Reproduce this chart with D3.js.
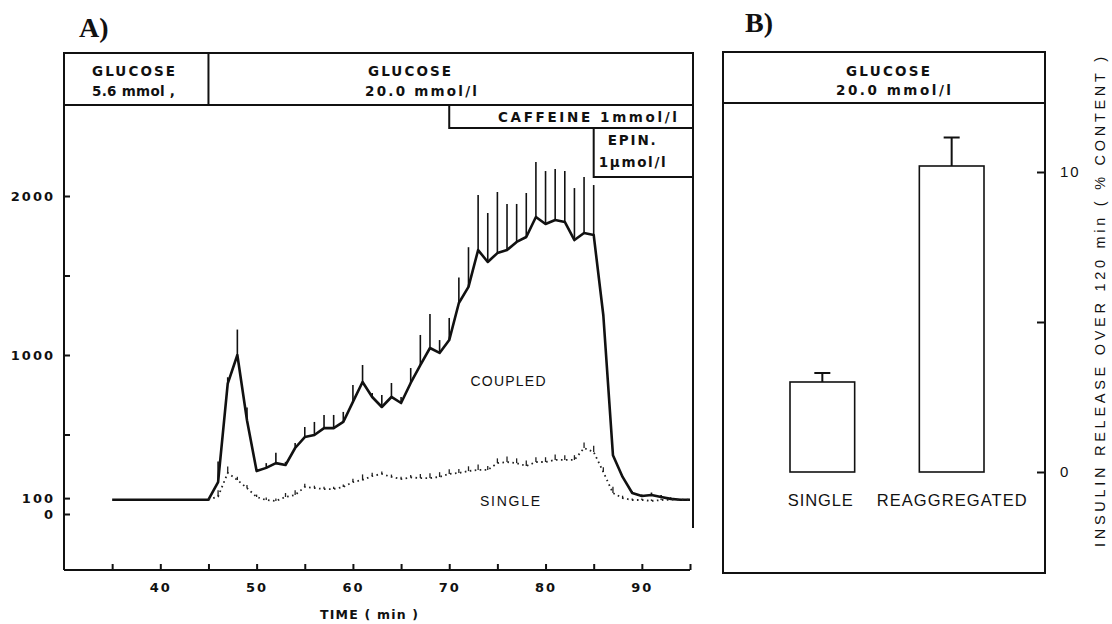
<!DOCTYPE html>
<html>
<head>
<meta charset="utf-8">
<title>Insulin release - coupled and single cells</title>
<style>
  body { margin: 0; background: #fff; }
  svg { display: block; }
  text { font-family: "Liberation Sans", Arial, sans-serif; fill: #111; }
  .lab { font-family: "DejaVu Sans", sans-serif; font-weight: bold; font-size: 13.5px; }
  .tick text { font-family: "DejaVu Sans", sans-serif; font-weight: bold; font-size: 13px; letter-spacing: 2px; fill: #111; }
  .tick line { stroke: #111; stroke-width: 2; }
  .panel { font-family: "Liberation Serif", serif; font-weight: bold; font-size: 28px; }
  .frame { fill: none; stroke: #111; stroke-width: 2; }
</style>
</head>
<body>
<div id="chart"></div>
<script src="https://d3js.org/d3.v7.min.js"></script>
<script>
// A) perifusion time course, insulin release
var coupledT = [35, 45, 46, 47, 48, 49, 50, 51, 52, 53, 54, 55, 56, 57, 58, 59, 60, 61, 62, 63, 64, 65,
  66, 67, 68, 69, 70, 71, 72, 73, 74, 75, 76, 77, 78, 79, 80, 81, 82, 83, 84, 85, 86, 87, 88, 89, 90,
  91, 92, 93, 94, 95];
var coupledV = [90, 90, 200, 820, 1000, 590, 270, 290, 320, 308, 415, 484, 497, 540, 540, 579, 705, 830, 736, 673, 736, 698,
  824, 937, 1044, 1013, 1094, 1327, 1428, 1660, 1585, 1641, 1660, 1711, 1742, 1868, 1824, 1849, 1837, 1723, 1767, 1755, 1250, 370, 233, 132, 113,
  120, 107, 95, 90, 90];
var coupledErr = [0, 0, 130, 40, 160, 80, 0, 30, 65, 20, 32, 63, 82, 83, 83, 63, 106, 107, 25, 75, 88, 38,
  94, 189, 214, 81, 139, 160, 250, 346, 308, 384, 290, 239, 277, 346, 333, 321, 320, 327, 352, 314, 0, 0, 0, 12, 10,
  15, 12, 10, 5, 0];

var singleT = [45, 46, 47, 48, 49, 50, 51, 52, 53, 54, 55, 56, 57, 58, 59, 60, 61, 62, 63, 64, 65,
  66, 67, 68, 69, 70, 71, 72, 73, 74, 75, 76, 77, 78, 79, 80, 81, 82, 83, 84, 85, 86, 87, 88, 89, 90,
  91, 92, 93, 94, 95];
var singleV = [90, 110, 258, 214, 163, 107, 88, 82, 107, 120, 170, 163, 157, 157, 170, 201, 214, 239, 252, 233, 220,
  230, 226, 226, 233, 252, 258, 270, 277, 277, 320, 327, 320, 302, 327, 327, 340, 340, 340, 415, 390, 264, 132, 100, 88, 88,
  82, 88, 90, 90, 90];
var singleErr = [0, 40, 40, 20, 20, 15, 15, 15, 25, 30, 20, 15, 15, 15, 15, 20, 35, 20, 15, 15, 15,
  15, 25, 30, 30, 30, 25, 30, 35, 25, 30, 35, 30, 35, 30, 30, 35, 30, 30, 35, 40, 30, 40, 15, 10, 10,
  10, 10, 0, 0, 0];

var xTicks = [35, 40, 45, 50, 55, 60, 65, 70, 75, 80, 85, 90, 95];
var xLabels = [40, 50, 60, 70, 80, 90];
var yTicks = [0, 100, 500, 1000, 1500, 2000];
var yLabels = [0, 100, 1000, 2000];

// perifusion media
var glucoseStart = 45, caffeineStart = 70, epinStart = 85;

// B) insulin release over 120 min (% content)
var bCats = ["SINGLE", "REAGGREGATED"];
var bVals = [3.0, 10.2];
var bErr = [0.3, 0.95];
var bTicks = [0, 5, 10];
var bLabels = [0, 10];

var svg = d3.select('#chart').append('svg')
  .attr('width', 1112).attr('height', 624);

// small helper: fixed-width label like the typeset original
function label(g, txt, px, py, len, anchor) {
  return g.append('text').attr('class', 'lab').attr('x', px).attr('y', py)
    .attr('text-anchor', anchor || 'start')
    .attr('textLength', len).attr('lengthAdjust', 'spacing').text(txt);
}

// ---------- panel A ----------
var A = { left: 64, right: 693, top: 53, box: 105, bottom: 570 };
var x = d3.scaleLinear().domain([30, 95]).range([64, 690]);
var y = d3.scaleLinear().domain([0, 2000]).range([514, 196]);

var gA = svg.append('g');

gA.append('text').attr('class', 'panel').attr('x', 79).attr('y', 37).text('A)');

// frame
gA.append('path').attr('class', 'frame')
  .attr('d', 'M' + A.left + ',' + A.bottom + 'V' + A.top + 'H' + A.right + 'V528');
gA.append('line').attr('class', 'frame')
  .attr('x1', A.left).attr('x2', x(95)).attr('y1', A.bottom).attr('y2', A.bottom);

// treatment boxes
gA.append('line').attr('class', 'frame')
  .attr('x1', A.left).attr('x2', A.right).attr('y1', A.box).attr('y2', A.box);
gA.append('line').attr('class', 'frame')
  .attr('x1', x(glucoseStart)).attr('x2', x(glucoseStart)).attr('y1', A.top).attr('y2', A.box);
gA.append('path').attr('class', 'frame')
  .attr('d', 'M' + x(caffeineStart) + ',' + A.box + 'V128H' + A.right);
gA.append('path').attr('class', 'frame')
  .attr('d', 'M' + x(epinStart) + ',128V177H' + A.right);

label(gA, 'GLUCOSE', 92, 76, 83);
label(gA, '5.6 mmol ,', 92, 96, 83);
label(gA, 'GLUCOSE', 368, 76, 83);
label(gA, '20.0 mmol/l', 365, 96, 112);
label(gA, 'CAFFEINE 1mmol/l', 498, 122, 179);
label(gA, 'EPIN.', x(epinStart) + 14, 145, 48);
label(gA, '1µmol/l', x(epinStart) + 5, 167, 67);

// axes
var xAxis = d3.axisBottom(x).tickValues(xTicks).tickSize(-6).tickPadding(13)
  .tickFormat(function(d) { return xLabels.indexOf(d) >= 0 ? d : ''; });
gA.append('g').attr('transform', 'translate(0,' + A.bottom + ')').call(xAxis)
  .call(function(g) { g.select('.domain').remove(); });

var yAxis = d3.axisLeft(y).tickValues(yTicks).tickSize(-6).tickPadding(9)
  .tickFormat(function(d) { return yLabels.indexOf(d) >= 0 ? d : ''; });
gA.append('g').attr('transform', 'translate(' + A.left + ',0)').call(yAxis)
  .call(function(g) { g.select('.domain').remove(); });

label(gA, 'TIME  ( min )', 369, 619, 98, 'middle').style('font-size', '12.5px');

// coupled cells: solid line with upward error bars
var coupled = coupledT.map(function(t, i) { return { t: t, v: coupledV[i], e: coupledErr[i] }; });
var single = singleT.map(function(t, i) { return { t: t, v: singleV[i], e: singleErr[i] }; });

var line = d3.line().x(function(d) { return x(d.t); }).y(function(d) { return y(d.v); });

gA.selectAll('.errC').data(coupled.filter(function(d) { return d.e > 0; }))
  .enter().append('line')
  .attr('x1', function(d) { return x(d.t); }).attr('x2', function(d) { return x(d.t); })
  .attr('y1', function(d) { return y(d.v); }).attr('y2', function(d) { return y(d.v + d.e); })
  .attr('stroke', '#111').attr('stroke-width', 1.6);

gA.append('path').datum(coupled).attr('d', line)
  .attr('fill', 'none').attr('stroke', '#111').attr('stroke-width', 2.6).attr('stroke-linejoin', 'round');

// single cells: dotted line with short error ticks
gA.selectAll('.errS').data(single.filter(function(d) { return d.e > 0; }))
  .enter().append('line')
  .attr('x1', function(d) { return x(d.t); }).attr('x2', function(d) { return x(d.t); })
  .attr('y1', function(d) { return y(d.v); }).attr('y2', function(d) { return y(d.v + d.e); })
  .attr('stroke', '#222').attr('stroke-width', 1.3);

gA.append('path').datum(single).attr('d', line)
  .attr('fill', 'none').attr('stroke', '#222').attr('stroke-width', 1.8)
  .attr('stroke-dasharray', '1.6,3.4');

gA.append('text').attr('x', 508).attr('y', 386).attr('text-anchor', 'middle')
  .attr('textLength', 75).attr('lengthAdjust', 'spacing')
  .style('font-size', '14px').text('COUPLED');
gA.append('text').attr('x', 510).attr('y', 506).attr('text-anchor', 'middle')
  .attr('textLength', 60).attr('lengthAdjust', 'spacing')
  .style('font-size', '14px').text('SINGLE');

// ---------- panel B ----------
var B = { left: 723, right: 1045, top: 52, box: 103, bottom: 573 };
var xb = d3.scaleBand().domain(bCats).range([790, 984]).paddingInner(0.5).paddingOuter(0);
var yb = d3.scaleLinear().domain([0, 10]).range([472, 172]);

var gB = svg.append('g');
gB.append('text').attr('class', 'panel').attr('x', 745).attr('y', 32).text('B)');

gB.append('rect').attr('class', 'frame')
  .attr('x', B.left).attr('y', B.top).attr('width', B.right - B.left).attr('height', B.bottom - B.top);
gB.append('line').attr('class', 'frame')
  .attr('x1', B.left).attr('x2', B.right).attr('y1', B.box).attr('y2', B.box);

label(gB, 'GLUCOSE', 846, 76, 84);
label(gB, '20.0 mmol/l', 836, 95, 115);

var bars = bCats.map(function(c, i) { return { c: c, v: bVals[i], e: bErr[i] }; });

gB.selectAll('.err').data(bars).enter().append('path')
  .attr('d', function(d) {
    var cx = xb(d.c) + xb.bandwidth() / 2, w = 8;
    return 'M' + cx + ',' + yb(d.v) + 'V' + yb(d.v + d.e) + 'M' + (cx - w) + ',' + yb(d.v + d.e) + 'H' + (cx + w);
  })
  .attr('fill', 'none').attr('stroke', '#111').attr('stroke-width', 2);

gB.selectAll('.bar').data(bars).enter().append('rect')
  .attr('x', function(d) { return xb(d.c); })
  .attr('y', function(d) { return yb(d.v); })
  .attr('width', xb.bandwidth())
  .attr('height', function(d) { return yb(0) - yb(d.v); })
  .attr('fill', '#fff').attr('stroke', '#111').attr('stroke-width', 1.6);

gB.selectAll('.cat').data(bars).enter().append('text')
  .attr('x', function(d) { return xb(d.c) + xb.bandwidth() / 2 + (d.c === 'SINGLE' ? -2 : 0); })
  .attr('y', 506).attr('text-anchor', 'middle')
  .attr('textLength', function(d) { return d.c === 'SINGLE' ? 65 : 150; })
  .attr('lengthAdjust', 'spacing')
  .style('font-size', '16.5px')
  .text(function(d) { return d.c; });

var bAxis = d3.axisRight(yb).tickValues(bTicks).tickSize(-8).tickPadding(15)
  .tickFormat(function(d) { return bLabels.indexOf(d) >= 0 ? d : ''; });
gB.append('g').attr('transform', 'translate(' + B.right + ',0)').call(bAxis)
  .call(function(g) { g.select('.domain').remove(); })
  .selectAll('text').style('font-family', '"Liberation Sans", sans-serif')
  .style('font-weight', 'normal').style('font-size', '15px');

gB.append('text')
  .attr('transform', 'translate(1105,302) rotate(-90)')
  .attr('text-anchor', 'middle')
  .attr('textLength', 490).attr('lengthAdjust', 'spacing')
  .style('font-size', '14.5px')
  .text('INSULIN  RELEASE  OVER  120 min  ( % CONTENT )');
</script>
</body>
</html>
